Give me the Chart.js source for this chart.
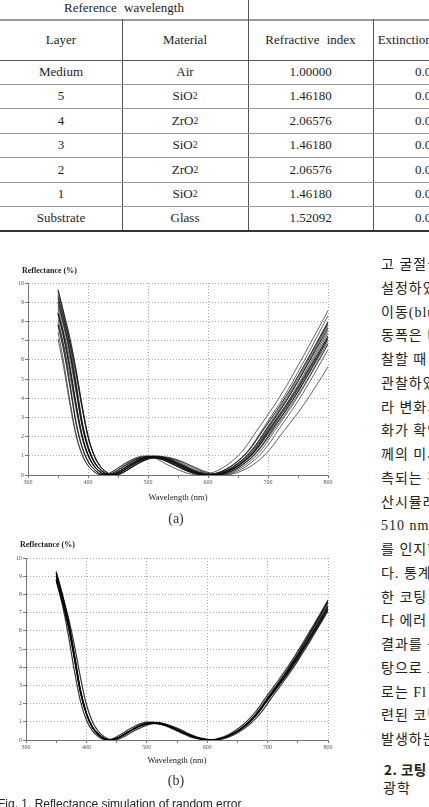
<!DOCTYPE html>
<html><head><meta charset="utf-8">
<script src="https://cdn.jsdelivr.net/npm/chart.js@4.4.0/dist/chart.umd.min.js"></script>
<style>
html,body{margin:0;padding:0;background:#fff;}
body{width:429px;height:807px;overflow:hidden;position:relative;}
.hl{position:absolute;height:1px;background:#8c8c8c;}
.vl{position:absolute;width:1px;background:#555;}
.cell{position:absolute;display:flex;align-items:center;justify-content:center;font-family:"Liberation Serif",serif;font-size:13px;color:#1e1e1e;word-spacing:4px;white-space:nowrap;}
.cell sub{font-size:9.5px;vertical-align:-3px;line-height:0;}
.txt{position:absolute;white-space:nowrap;}
.ylab{font-family:"Liberation Serif",serif;font-weight:bold;font-size:8px;color:#222;}
.xlab{font-family:"Liberation Serif",serif;font-size:8.5px;color:#222;transform:translate(-50%,-50%);}
.sub{font-family:"Liberation Serif",serif;font-size:14px;color:#333;transform:translate(-50%,-50%);}
.kr{position:absolute;left:381px;font-family:"Liberation Serif","Noto Sans CJK KR",serif;font-size:14px;color:#222;white-space:nowrap;line-height:16px;letter-spacing:1px;}
canvas{position:absolute;left:0;}
</style></head>
<body>
<div id="table"></div>
<canvas id="chartA" width="345" height="240" style="top:262px"></canvas>
<canvas id="chartB" width="345" height="225" style="top:538px"></canvas>
<div class="txt ylab" style="left:22px;top:266px">Reflectance (%)</div>
<div class="txt xlab" style="left:178px;top:497px">Wavelength (nm)</div>
<div class="txt sub" style="left:176px;top:519px">(a)</div>
<div class="txt ylab" style="left:20px;top:540px">Reflectance (%)</div>
<div class="txt xlab" style="left:177px;top:760px">Wavelength (nm)</div>
<div class="txt sub" style="left:176px;top:781px">(b)</div>
<div class="txt" style="left:-2px;top:797px;font-family:'Liberation Sans',sans-serif;font-size:12px;line-height:14px;color:#222">Fig. 1. Reflectance simulation of random error</div>
<div id="korean"></div>
<script>
// ---------- data ----------
const WL=[350,360,370,380,390,400,410,420,430,440,450,460,470,480,490,500,510,520,530,540,550,560,570,580,590,600,610,620,630,640,650,660,670,680,690,700,710,720,730,740,750,760,770,780,790,800];
const X_TICKS=[300,400,500,600,700,800];
const X_MINOR=[300,350,400,450,500,550,600,650,700,750,800];
const Y_TICKS=[0,1,2,3,4,5,6,7,8,9,10];
const Y_MINOR=[0,0.5,1,1.5,2,2.5,3,3.5,4,4.5,5,5.5,6,6.5,7,7.5,8,8.5,9,9.5,10];

// (a) random error, wide spread
const a01=[9.0,7.8,6.4,4.6,2.7,1.45,0.7,0.3,0.07,0.0, 0.08,0.25,0.45,0.64,0.8,0.9,0.94,0.92,0.84,0.72, 0.57,0.42,0.27,0.15,0.06,0.01,0.0,0.06,0.15,0.3, 0.48,0.72,1.0,1.35,1.78,2.25,2.7,3.15,3.6,4.1, 4.6,5.15,5.7,6.25,6.82,7.4];
const a02=[9.65,8.4,7.1,5.5,3.65,2.05,1.05,0.48,0.17,0.02, 0.03,0.16,0.35,0.55,0.72,0.86,0.93,0.94,0.88,0.78, 0.65,0.5,0.34,0.2,0.1,0.03,0.0,0.02,0.1,0.22, 0.38,0.6,0.85,1.17,1.55,2.0,2.48,2.92,3.38,3.85, 4.35,4.88,5.42,5.98,6.53,7.1];
const a03=[8.4,7.1,5.5,3.65,2.05,1.05,0.48,0.17,0.02,0.03, 0.16,0.35,0.55,0.72,0.86,0.93,0.94,0.88,0.78,0.65, 0.5,0.34,0.2,0.1,0.03,0.0,0.02,0.1,0.22,0.38, 0.6,0.85,1.17,1.55,2.0,2.48,2.92,3.38,3.85,4.35, 4.88,5.42,5.98,6.53,7.1,7.69];
const a04=[7.8,6.4,4.6,2.7,1.45,0.7,0.3,0.07,0.0,0.08, 0.25,0.45,0.64,0.8,0.9,0.94,0.92,0.84,0.72,0.57, 0.42,0.27,0.15,0.06,0.01,0.0,0.06,0.15,0.3,0.48, 0.72,1.0,1.35,1.78,2.25,2.7,3.15,3.6,4.1,4.6, 5.15,5.7,6.25,6.82,7.4,7.98];
const a05=[7.1,5.5,3.65,2.05,1.05,0.48,0.17,0.02,0.03,0.16, 0.35,0.55,0.72,0.86,0.93,0.94,0.92,0.93,0.94,0.88, 0.78,0.65,0.5,0.34,0.2,0.1,0.03,0.0,0.02,0.1, 0.22,0.38,0.6,0.85,1.17,1.55,2.0,2.48,2.92,3.38, 3.85,4.35,4.88,5.42,5.98,6.53];
const a06=[9.0,7.8,6.4,4.6,2.7,1.45,0.7,0.3,0.07,0.0, 0.08,0.25,0.45,0.64,0.8,0.9,0.94,0.94,0.92,0.84, 0.72,0.57,0.42,0.27,0.15,0.06,0.01,0.0,0.06,0.15, 0.3,0.48,0.72,1.0,1.35,1.78,2.25,2.7,3.15,3.6, 4.1,4.6,5.15,5.7,6.25,6.82];
const a07=[8.4,7.1,5.5,3.65,2.05,1.05,0.48,0.17,0.02,0.03, 0.16,0.35,0.55,0.72,0.86,0.93,0.94,0.94,0.88,0.78, 0.65,0.5,0.34,0.2,0.1,0.03,0.0,0.02,0.1,0.22, 0.38,0.6,0.85,1.17,1.55,2.0,2.48,2.92,3.38,3.85, 4.35,4.88,5.42,5.98,6.53,7.1];
const a08=[9.65,8.4,7.1,5.5,3.65,2.05,1.05,0.48,0.17,0.02, 0.03,0.16,0.35,0.55,0.72,0.86,0.92,0.9,0.78,0.65, 0.5,0.34,0.2,0.1,0.03,0.0,0.02,0.1,0.22,0.38, 0.6,0.85,1.17,1.55,2.0,2.48,2.92,3.38,3.85,4.35, 4.88,5.42,5.98,6.53,7.1,7.69];
const a09=[7.8,6.4,4.6,2.7,1.45,0.7,0.3,0.07,0.0,0.08, 0.25,0.45,0.64,0.8,0.9,0.94,0.92,0.86,0.85,0.83, 0.76,0.65,0.51,0.38,0.24,0.14,0.05,0.01,0.0,0.05, 0.14,0.27,0.43,0.65,0.9,1.22,1.6,2.03,2.43,2.84, 3.24,3.69,4.14,4.64,5.13,5.63];
const a10=[7.46,5.78,3.83,2.15,1.1,0.5,0.18,0.02,0.03,0.17, 0.37,0.58,0.76,0.9,0.98,0.99,0.92,0.75,0.57,0.42, 0.27,0.15,0.06,0.01,0.0,0.06,0.15,0.3,0.48,0.72, 1.0,1.35,1.78,2.25,2.7,3.15,3.6,4.1,4.6,5.15, 5.7,6.25,6.82,7.4,7.98,8.56];
const a11=[9.54,8.27,6.78,4.88,2.86,1.54,0.74,0.32,0.07,0.0, 0.08,0.27,0.48,0.68,0.85,0.95,1.0,0.98,0.89,0.76, 0.6,0.45,0.29,0.16,0.06,0.01,0.0,0.06,0.16,0.32, 0.51,0.76,1.06,1.43,1.89,2.39,2.86,3.34,3.82,4.35, 4.88,5.46,6.04,6.63,7.23,7.84];
const a12=[7.9,6.67,5.17,3.43,1.93,0.99,0.45,0.16,0.02,0.03, 0.15,0.33,0.52,0.68,0.81,0.87,0.88,0.83,0.73,0.61, 0.47,0.32,0.19,0.09,0.03,0.0,0.02,0.09,0.21,0.36, 0.56,0.8,1.1,1.46,1.88,2.33,2.74,3.18,3.62,4.09, 4.59,5.09,5.62,6.14,6.67,7.23];
const a13=[9.36,8.15,6.89,5.34,3.54,1.99,1.02,0.47,0.16,0.02, 0.03,0.16,0.34,0.53,0.7,0.83,0.9,0.89,0.81,0.7, 0.55,0.41,0.26,0.15,0.06,0.01,0.0,0.06,0.15,0.29, 0.47,0.7,0.97,1.31,1.73,2.18,2.62,3.06,3.49,3.98, 4.46,5.0,5.53,6.06,6.62,7.18];
const a14=[8.4,7.1,5.5,3.65,2.05,1.05,0.48,0.17,0.02,0.03, 0.16,0.35,0.55,0.72,0.86,0.93,0.94,0.86,0.72,0.57, 0.42,0.27,0.15,0.06,0.01,0.0,0.06,0.15,0.3,0.48, 0.72,1.0,1.35,1.78,2.25,2.7,3.15,3.6,4.1,4.6, 5.15,5.7,6.25,6.82,7.4,7.98];
const a15=[8.82,7.64,6.27,4.51,2.65,1.42,0.69,0.29,0.07,0.0, 0.08,0.25,0.44,0.63,0.78,0.88,0.92,0.9,0.82,0.71, 0.56,0.41,0.26,0.15,0.06,0.01,0.0,0.06,0.15,0.29, 0.47,0.71,0.98,1.32,1.74,2.21,2.65,3.09,3.53,4.02, 4.51,5.05,5.59,6.13,6.68,7.25];
const a16=[9.18,7.96,6.53,4.69,2.75,1.48,0.71,0.31,0.07,0.0, 0.08,0.26,0.46,0.65,0.82,0.92,0.96,0.94,0.86,0.73, 0.58,0.43,0.28,0.15,0.06,0.01,0.0,0.06,0.15,0.31, 0.49,0.73,1.02,1.38,1.82,2.3,2.75,3.21,3.67,4.18, 4.69,5.25,5.81,6.38,6.96,7.55];
const a17=[9.26,8.06,6.82,5.28,3.5,1.97,1.01,0.46,0.16,0.02, 0.03,0.15,0.34,0.53,0.69,0.83,0.89,0.9,0.84,0.75, 0.62,0.48,0.33,0.19,0.1,0.03,0.0,0.02,0.1,0.21, 0.36,0.58,0.82,1.12,1.49,1.92,2.38,2.8,3.24,3.7, 4.18,4.68,5.2,5.74,6.27,6.82];
const a18=[8.65,7.31,5.67,3.76,2.11,1.08,0.49,0.18,0.02,0.03, 0.16,0.36,0.57,0.74,0.89,0.96,0.97,0.91,0.8,0.67, 0.52,0.35,0.21,0.1,0.03,0.0,0.02,0.1,0.23,0.39, 0.62,0.88,1.21,1.6,2.06,2.55,3.01,3.48,3.97,4.48, 5.03,5.58,6.16,6.73,7.31,7.92];
const a19=[8.11,6.66,4.78,2.81,1.51,0.73,0.31,0.07,0.0,0.08, 0.26,0.47,0.67,0.83,0.94,0.98,0.96,0.87,0.75,0.59, 0.44,0.28,0.16,0.06,0.01,0.0,0.06,0.16,0.31,0.5, 0.75,1.04,1.4,1.85,2.34,2.81,3.28,3.74,4.26,4.78, 5.36,5.93,6.5,7.09,7.7,8.3];
const a20=[8.46,7.33,6.02,4.32,2.54,1.36,0.66,0.28,0.07,0.0, 0.08,0.24,0.42,0.6,0.75,0.85,0.88,0.86,0.79,0.68, 0.54,0.39,0.25,0.14,0.06,0.01,0.0,0.06,0.14,0.28, 0.45,0.68,0.94,1.27,1.67,2.12,2.54,2.96,3.38,3.85, 4.32,4.84,5.36,5.88,6.41,6.96];

// (b) reduced error, tight band
const b01=[9.0,7.8,6.4,4.6,2.7,1.45,0.7,0.3,0.07,0.0, 0.08,0.25,0.45,0.64,0.8,0.9,0.94,0.92,0.84,0.72, 0.57,0.42,0.27,0.15,0.06,0.01,0.0,0.06,0.15,0.3, 0.48,0.72,1.0,1.35,1.78,2.25,2.7,3.15,3.6,4.1, 4.6,5.15,5.7,6.25,6.82,7.4];
const b02=[8.73,7.57,6.21,4.46,2.62,1.41,0.68,0.29,0.07,0.0, 0.08,0.24,0.44,0.62,0.78,0.87,0.91,0.89,0.81,0.7, 0.55,0.41,0.26,0.15,0.06,0.01,0.0,0.06,0.15,0.29, 0.47,0.7,0.97,1.31,1.73,2.18,2.62,3.06,3.49,3.98, 4.46,5.0,5.53,6.06,6.62,7.18];
const b03=[9.27,8.03,6.59,4.74,2.78,1.49,0.72,0.31,0.07,0.0, 0.08,0.26,0.46,0.66,0.82,0.93,0.97,0.95,0.87,0.74, 0.59,0.43,0.28,0.15,0.06,0.01,0.0,0.06,0.15,0.31, 0.49,0.74,1.03,1.39,1.83,2.32,2.78,3.24,3.71,4.22, 4.74,5.3,5.87,6.44,7.02,7.62];
const b04=[9.17,7.98,6.75,5.23,3.47,1.95,1.0,0.46,0.16,0.02, 0.03,0.15,0.33,0.52,0.68,0.82,0.9,0.91,0.83,0.71, 0.56,0.42,0.27,0.15,0.06,0.01,0.0,0.06,0.15,0.3, 0.48,0.71,0.99,1.34,1.76,2.23,2.67,3.12,3.56,4.06, 4.55,5.1,5.64,6.19,6.75,7.33];
const b05=[8.82,7.46,5.78,3.83,2.15,1.1,0.5,0.18,0.02,0.03, 0.17,0.37,0.58,0.76,0.9,0.98,0.97,0.88,0.78,0.65, 0.5,0.34,0.2,0.1,0.03,0.0,0.02,0.1,0.22,0.38, 0.6,0.85,1.17,1.55,2.0,2.48,2.92,3.38,3.85,4.35, 4.88,5.42,5.98,6.53,7.1,7.69];
const b06=[9.0,7.8,6.4,4.6,2.7,1.45,0.7,0.3,0.07,0.0, 0.08,0.25,0.45,0.64,0.8,0.9,0.94,0.93,0.88,0.78, 0.65,0.5,0.34,0.2,0.1,0.03,0.0,0.02,0.1,0.22, 0.38,0.6,0.85,1.17,1.55,2.0,2.48,2.92,3.38,3.85, 4.35,4.88,5.42,5.98,6.53,7.1];
const b07=[8.82,7.64,6.27,4.51,2.65,1.42,0.69,0.29,0.07,0.0, 0.08,0.25,0.44,0.63,0.78,0.88,0.92,0.9,0.82,0.71, 0.56,0.41,0.26,0.15,0.06,0.01,0.0,0.06,0.15,0.29, 0.47,0.71,0.98,1.32,1.74,2.21,2.65,3.09,3.53,4.02, 4.51,5.05,5.59,6.13,6.68,7.25];
const b08=[9.18,7.96,6.53,4.69,2.75,1.48,0.71,0.31,0.07,0.0, 0.08,0.26,0.46,0.65,0.82,0.92,0.96,0.94,0.86,0.73, 0.58,0.43,0.28,0.15,0.06,0.01,0.0,0.06,0.15,0.31, 0.49,0.73,1.02,1.38,1.82,2.3,2.75,3.21,3.67,4.18, 4.69,5.25,5.81,6.38,6.96,7.55];

const SERIES_A=[a01,a02,a03,a04,a05,a06,a07,a08,a09,a10,a11,a12,a13,a14,a15,a16,a17,a18,a19,a20];
const SERIES_B=[b01,b02,b03,b04,b05,b06,b07,b08];

// table
const TABLE_HEAD=['Layer','Material','Refractive index','Extinction coefficient'];
const LAYERS=['Medium','5','4','3','2','1','Substrate'];
const MATERIALS=['Air','SiO<sub>2</sub>','ZrO<sub>2</sub>','SiO<sub>2</sub>','ZrO<sub>2</sub>','SiO<sub>2</sub>','Glass'];
const N_INDEX=['1.00000','1.46180','2.06576','1.46180','2.06576','1.46180','1.52092'];
const K_INDEX=['0.00000','0.00000','0.00000','0.00000','0.00000','0.00000','0.00000'];

// Korean body text (right column, clipped by page edge)
const KOREAN=['고 굴절률을','설정하였다','이동(blue','동폭은 더','찰할 때','관찰하였다','라 변화가','화가 확인','께의 미세','측되는 것','산시뮬레이션','510 nm에서','를 인지할','다. 통계','한 코팅','다 에러','결과를 통','탕으로 코','로는 Fl','련된 코팅','발생하는'];

// ---------- table ----------
(function(){
  const t=document.getElementById('table');
  const colX=[0,122,248,373,499];
  const rowY=[19,60,84,108,133,157,182,206,230];
  let h='';
  h+='<div class="cell" style="left:0;width:248px;top:0;height:15px">Reference wavelength</div>';
  h+='<div class="hl" style="left:0;width:429px;top:19px;height:1.5px;background:#999"></div>';
  h+='<div class="vl" style="left:248px;top:0;height:230px"></div>';
  h+='<div class="vl" style="left:122px;top:19px;height:211px"></div>';
  h+='<div class="vl" style="left:373px;top:19px;height:211px"></div>';
  for(let c=0;c<4;c++){
    h+='<div class="cell" style="left:'+colX[c]+'px;width:'+(colX[c+1]-colX[c])+'px;top:'+rowY[0]+'px;height:'+(rowY[1]-rowY[0])+'px">'+TABLE_HEAD[c]+'</div>';
  }
  for(let r=0;r<LAYERS.length;r++){
    const vals=[LAYERS[r],MATERIALS[r],N_INDEX[r],K_INDEX[r]];
    for(let c=0;c<4;c++){
      h+='<div class="cell" style="left:'+colX[c]+'px;width:'+(colX[c+1]-colX[c])+'px;top:'+rowY[r+1]+'px;height:'+(rowY[r+2]-rowY[r+1])+'px">'+vals[c]+'</div>';
    }
  }
  for(let r=1;r<rowY.length;r++){
    const last=r===rowY.length-1;
    const col=(r===1)?'#555':(last?'#333':'#9a9a9a');
    h+='<div class="hl" style="left:0;width:429px;top:'+rowY[r]+'px;height:'+(last?2:1)+'px;background:'+col+'"></div>';
  }
  t.innerHTML=h;
})();

// ---------- korean text ----------
(function(){
  const k=document.getElementById('korean');
  let h='';
  KOREAN.forEach((s,i)=>{ h+='<div class="kr" style="top:'+(257+i*23.75)+'px">'+s+'</div>'; });
  h+='<div class="kr" style="left:384px;top:761px;font-family:\'Noto Sans CJK KR\',sans-serif;font-weight:bold;font-size:13.5px;letter-spacing:0.5px">2. 코팅</div>';
  h+='<div class="kr" style="left:383px;top:781px">광학</div>';
  k.innerHTML=h;
})();

// ---------- charts ----------
function makeChart(id,set,box,color,width){
  const datasets=set.map(vals=>({
    data:WL.map((w,i)=>({x:w,y:vals[i]})),
    borderColor:color,borderWidth:width,pointRadius:0,fill:false,
    cubicInterpolationMode:'monotone'
  }));
  const tickFont={family:'Liberation Serif',size:6};
  return new Chart(document.getElementById(id),{
    type:'line',
    data:{datasets},
    options:{
      responsive:false,animation:false,events:[],
      layout:{padding:{top:box.top,right:box.right,left:0,bottom:0}},
      plugins:{legend:{display:false},tooltip:{enabled:false},title:{display:false}},
      scales:{
        x:{type:'linear',min:300,max:800,
          afterBuildTicks:s=>{s.ticks=X_MINOR.map(v=>({value:v}));},
          afterFit:s=>{s.height=box.xh;},
          ticks:{autoSkip:false,maxRotation:0,padding:1,color:'#555',font:tickFont,
            callback:v=>X_TICKS.includes(v)?String(v):''},
          grid:{color:c=>(c.tick&&X_TICKS.includes(c.tick.value))?'#a8a8a8':'rgba(0,0,0,0)',
            lineWidth:1,tickLength:3,tickColor:'#777',tickBorderDash:[]},
          border:{display:true,color:'#777',width:1,dash:[1,2]}
        },
        y:{min:0,max:10,
          afterBuildTicks:s=>{s.ticks=Y_MINOR.map(v=>({value:v}));},
          afterFit:s=>{s.width=box.yw;},
          ticks:{padding:1,color:'#555',font:tickFont,
            callback:v=>Y_TICKS.includes(v)?String(v):''},
          grid:{color:c=>(c.tick&&Y_TICKS.includes(c.tick.value))?'#a8a8a8':'rgba(0,0,0,0)',
            lineWidth:1,tickLength:3,tickColor:'#777',tickBorderDash:[]},
          border:{display:true,color:'#777',width:1,dash:[1,2]}
        }
      }
    }
  });
}
makeChart('chartA',SERIES_A,{top:21,right:17,xh:27,yw:28},'rgba(15,15,15,0.72)',0.9);
makeChart('chartB',SERIES_B,{top:20,right:17,xh:23,yw:26},'rgba(5,5,5,0.8)',1.2);
</script>
</body></html>
